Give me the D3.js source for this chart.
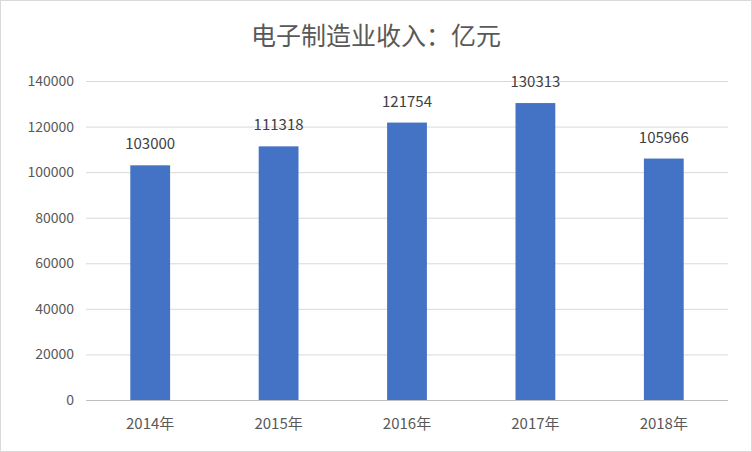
<!DOCTYPE html>
<html><head><meta charset="utf-8">
<script src="https://cdn.jsdelivr.net/npm/d3@7"></script>
<style>body{margin:0;background:#fff}</style></head>
<body><svg id="c" width="752" height="452"></svg>
<script>
const categories=["2014年","2015年","2016年","2017年","2018年"];
const values=[103000,111318,121754,130313,105966];
const yTicks=[0,20000,40000,60000,80000,100000,120000,140000];
const title="电子制造业收入：亿元";
const svg=d3.select("#c");
const font="'Microsoft YaHei','Noto Sans CJK SC',sans-serif";
svg.append("rect").attr("x",0.5).attr("y",0.5).attr("width",751).attr("height",451).attr("fill","#fff").attr("stroke","#d9d9d9");
const x=d3.scaleBand().domain(categories).range([86,728]).paddingInner(0.69).paddingOuter(0.345);
const y=d3.scaleLinear().domain([0,140000]).range([400,81]);
svg.append("g").selectAll("line").data(yTicks).join("line")
 .attr("x1",86).attr("x2",728).attr("y1",d=>y(d)+0.5).attr("y2",d=>y(d)+0.5)
 .attr("stroke",d=>d===0?"#bfbfbf":"#d9d9d9");
svg.append("g").selectAll("text").data(yTicks).join("text")
 .attr("x",74).attr("y",d=>y(d)+5).attr("text-anchor","end").attr("font-size",14).attr("font-family",font).attr("fill","#595959").text(d=>d);
svg.append("g").selectAll("rect").data(values).join("rect")
 .attr("x",(d,i)=>x(categories[i])).attr("width",x.bandwidth()).attr("y",d=>y(d)).attr("height",d=>y(0)-y(d)).attr("fill","#4472c4");
svg.append("g").selectAll("text").data(values).join("text")
 .attr("x",(d,i)=>x(categories[i])+x.bandwidth()/2).attr("y",d=>y(d)-16).attr("text-anchor","middle").attr("font-size",15).attr("font-family",font).attr("fill","#404040").text(d=>d);
svg.append("g").selectAll("text").data(categories).join("text")
 .attr("x",d=>x(d)+x.bandwidth()/2).attr("y",429).attr("text-anchor","middle").attr("font-size",15).attr("font-family",font).attr("fill","#595959").text(d=>d);
svg.append("text").attr("x",376).attr("y",45).attr("text-anchor","middle").attr("font-size",25).attr("font-family",font).attr("fill","#595959").text(title);
</script></body></html>
